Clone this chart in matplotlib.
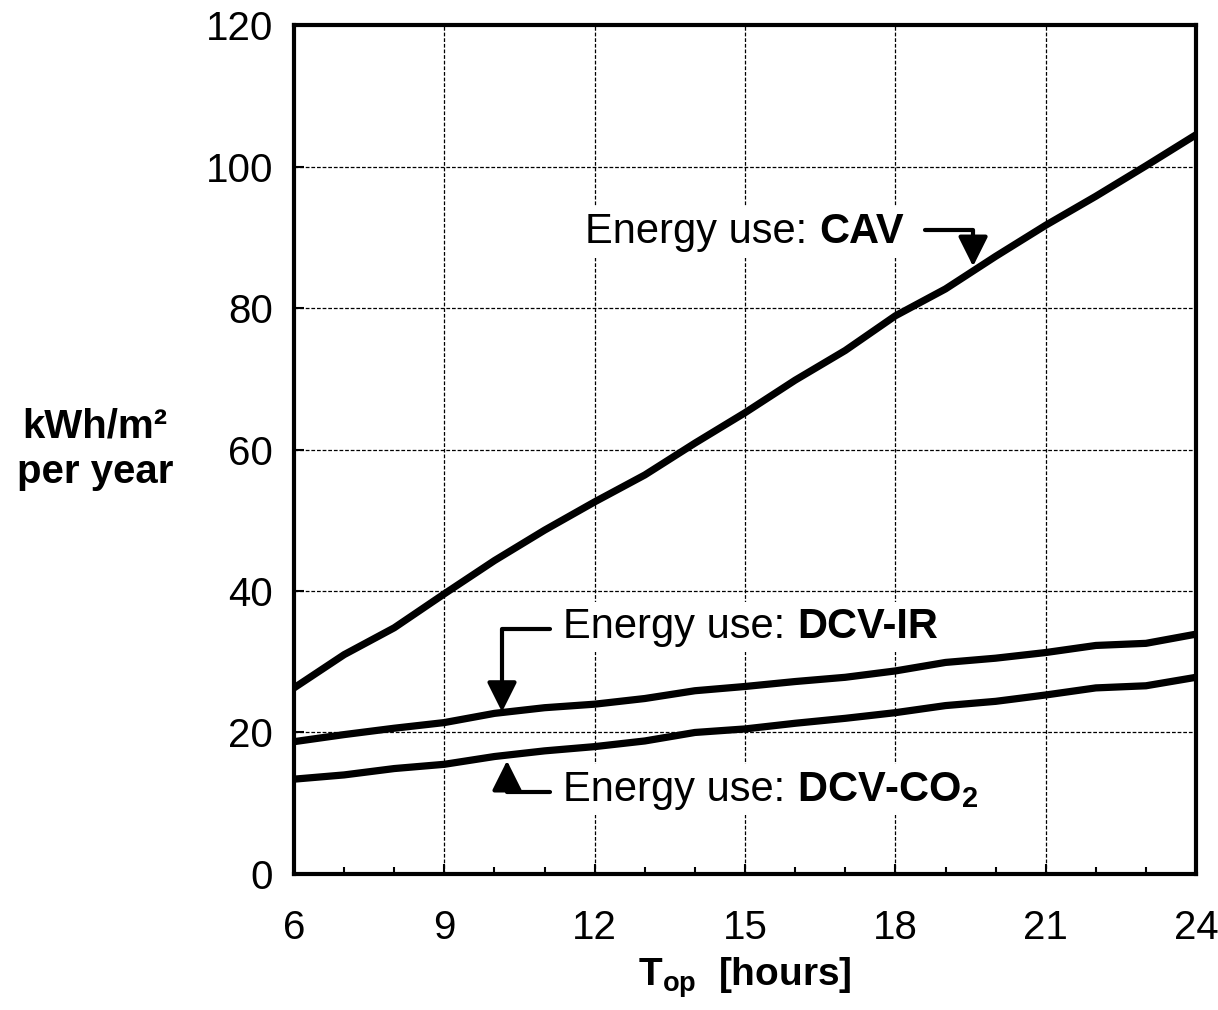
import numpy as np
import matplotlib
matplotlib.use("Agg")
import matplotlib.pyplot as plt
from matplotlib.ticker import MultipleLocator

plt.rcParams['font.family'] = ['Liberation Sans', 'DejaVu Sans']
plt.rcParams['mathtext.fontset'] = 'custom'
plt.rcParams['mathtext.rm'] = 'Liberation Sans'
plt.rcParams['mathtext.bf'] = 'Liberation Sans:bold'

# operating hours per day
hours = np.arange(6, 25)

# energy use, kWh/m2 per year
cav = [26.3, 31.0, 34.8, 39.6, 44.3, 48.6, 52.6, 56.4, 60.9, 65.2,
       69.8, 74.0, 78.9, 82.7, 87.3, 91.7, 95.8, 100.1, 104.5]
dcv_ir = [18.7, 19.7, 20.6, 21.4, 22.7, 23.5, 24.0, 24.8, 25.9, 26.5,
          27.2, 27.8, 28.7, 29.9, 30.5, 31.3, 32.3, 32.6, 33.9]
dcv_co2 = [13.4, 14.0, 14.9, 15.5, 16.6, 17.4, 18.0, 18.8, 20.0, 20.5,
           21.3, 22.0, 22.8, 23.8, 24.4, 25.3, 26.3, 26.6, 27.8]

fig = plt.figure(figsize=(12.18, 10.10), dpi=100)
ax = fig.add_axes([0.2414, 0.1347, 0.7406, 0.8405])

for ys in (cav, dcv_ir, dcv_co2):
    ax.plot(hours, ys, color='black', lw=5.2, solid_capstyle='round',
            solid_joinstyle='round', zorder=3)

ax.set_xlim(6, 24)
ax.set_ylim(0, 120)
ax.xaxis.set_major_locator(MultipleLocator(3))
ax.xaxis.set_minor_locator(MultipleLocator(1))
ax.yaxis.set_major_locator(MultipleLocator(20))

ax.grid(True, which='major', color='black', lw=0.9, linestyle=(0, (3, 1.5)))
for s in ax.spines.values():
    s.set_linewidth(3)
    s.set_zorder(4)

ax.tick_params(axis='both', which='major', direction='in', length=7, width=1.5,
               labelsize=29)
ax.tick_params(axis='x', which='major', pad=25)
ax.tick_params(axis='y', which='major', pad=15)
ax.tick_params(axis='x', which='minor', direction='in', length=5, width=1.5)

ax.set_xlabel(r'$\mathbf{T_{op}}$  [hours]', fontsize=28, fontweight='bold',
              labelpad=6)
fig.text(0.078, 0.5554, 'kWh/m²\nper year', fontsize=29, fontweight='bold',
         ha='center', va='center', linespacing=1.25)

box = dict(facecolor='white', edgecolor='none', pad=4)


def label(x, y, bold):
    t = ax.text(x, y, 'Energy use: ', fontsize=30, va='center', ha='left',
                bbox=box, zorder=5)
    ax.annotate(bold, xy=(1, 0), xycoords=t, va='bottom', ha='left',
                fontsize=30, fontweight='bold', bbox=box, zorder=5)


def elbow(start, tip):
    ax.annotate('', xy=tip, xytext=start,
                arrowprops=dict(arrowstyle='-|>,head_length=0.5,head_width=0.25',
                                connectionstyle='angle,angleA=0,angleB=90,rad=0',
                                color='black', lw=3, mutation_scale=36,
                                shrinkA=0, shrinkB=0),
                zorder=6)


label(11.81, 90.7, 'CAV')
elbow((18.6, 91.0), (19.55, 85.9))

label(11.37, 34.9, 'DCV-IR')
elbow((11.1, 34.6), (10.15, 22.9))

label(11.37, 11.9, r'DCV-CO$_\mathbf{2}$')
elbow((11.1, 11.6), (10.25, 16.0))

fig.savefig('out.png', dpi=100)
